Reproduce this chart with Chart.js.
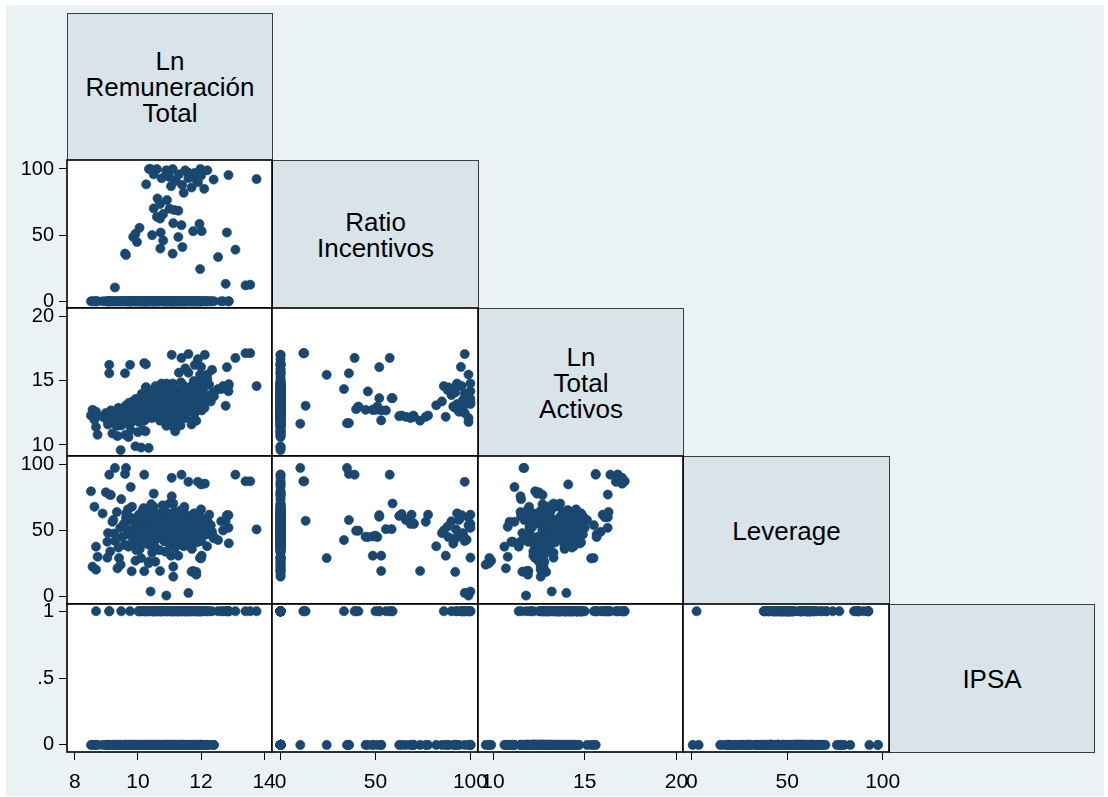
<!DOCTYPE html>
<html>
<head>
<meta charset="utf-8">
<title>Matriz de dispersión</title>
<script src="https://cdn.jsdelivr.net/npm/chart.js@4.4.1/dist/chart.umd.min.js"></script>
<style>
  html, body { margin: 0; padding: 0; background: #ffffff; }
  #page { position: relative; width: 1108px; height: 797px; overflow: hidden; background: #ffffff; }
  #bg { position: absolute; left: 6px; top: 5px; width: 1098px; height: 791px; background: #eaf2f3; }
  .diag {
    position: absolute; box-sizing: border-box; border: 1px solid #3c3c3c; background: #d9e4ea;
    display: flex; align-items: center; justify-content: center; text-align: center;
    font-family: 'Liberation Sans', Arial, sans-serif; font-size: 26px; line-height: 26px;
    color: #000; white-space: pre-line;
  }
  canvas { position: absolute; }
</style>
</head>
<body>
<div id="page"><div id="bg"></div></div>
<script>
// etiquetas de la diagonal
const varLabels = ['Ln\nRemuneración\nTotal', 'Ratio\nIncentivos', 'Ln\nTotal\nActivos', 'Leverage', 'IPSA'];

// observaciones (mismo orden en todos los arreglos)
const lnRem = [
  10.40, 10.90, 11.60, 11.60, 11.85, 11.98, 12.87, 13.76, 10.26, 10.35,
  10.50, 10.60, 10.90, 11.00, 11.10, 11.20, 11.30, 11.40, 11.50, 11.60,
  11.70, 11.80, 11.90, 12.00, 12.10, 12.20, 12.40, 11.05, 10.75, 11.45,
  10.62, 10.92, 10.50, 10.70, 11.00, 11.15, 11.28, 10.60, 10.70, 10.80,
  9.59, 9.62, 9.92, 10.05, 9.97, 9.85, 10.45, 10.72, 10.80, 11.12,
  11.38, 11.28, 11.75, 11.95, 12.02, 12.82, 13.09, 12.54, 11.41, 11.10,
  10.71,
  11.97, 9.27, 12.78, 13.41, 13.56,
  8.51, 8.56, 8.62, 8.67, 8.67, 8.72, 8.88, 8.98, 9.03, 9.03,
  9.09, 9.14, 9.19, 9.24, 9.35, 9.40, 9.45, 9.47, 9.75, 9.77,
  9.92, 10.10, 10.34, 9.09, 10.20, 10.25, 11.07, 12.12, 12.35, 11.18,
  10.24, 10.50, 11.07, 11.12, 11.12, 11.70, 11.85, 9.80, 10.20, 10.35,
  10.55, 10.87, 12.88, 12.64, 12.00, 12.20, 11.50, 11.80, 11.30, 11.60,
  9.60, 9.70, 10.00, 10.90, 11.40, 11.35, 10.15, 12.00, 11.00, 11.45,
  10.50, 12.00, 12.41, 12.70, 12.87, 11.90,
  9.55, 9.63, 9.66, 9.72, 9.78, 9.81, 9.88, 9.93, 9.97, 10.02,
  10.06, 10.12, 10.14, 10.21, 10.27, 10.31, 10.36, 10.42, 10.47, 10.52,
  10.56, 10.61, 10.67, 10.69, 10.77, 10.82, 10.84, 10.91, 10.96, 11.03,
  11.06, 11.11, 11.17, 11.22, 11.24, 11.32, 11.36, 11.43, 11.47, 11.52,
  11.54, 11.62, 11.66, 11.71, 11.77, 11.79, 11.86, 11.92, 11.94, 12.01,
  12.06, 12.11, 12.17, 12.19, 12.26, 12.31, 10.38, 10.93, 11.28, 10.58,
  9.05, 9.12, 9.22, 9.28, 9.33, 9.38, 9.44, 9.50, 9.57, 9.62,
  9.68, 9.74, 9.83, 9.89, 9.95, 10.03, 10.08, 10.13, 10.18, 10.23,
  10.28, 10.33, 10.39, 10.44, 10.49, 10.53, 10.58, 10.63, 10.68, 10.73,
  10.78, 10.83, 10.88, 10.94, 10.98, 11.02, 11.08, 11.13, 11.18, 11.23,
  11.27, 11.33, 11.38, 11.42, 11.48, 11.53, 11.58, 11.63, 11.68, 11.73,
  11.78, 11.84, 11.88, 11.93, 11.99, 10.45, 10.85, 11.15, 10.25, 10.65
];
const ratioInc = [
  100, 99, 97, 97, 92, 100, 95.4, 92.4, 88.4, 100,
  96, 100, 98, 94, 100, 91, 96, 88, 99, 93,
  86, 97, 90, 95, 85, 99, 92, 87, 93, 82,
  77.7, 76.5, 70.2, 73.5, 70, 69, 68.5, 63.8, 62.5, 66,
  36, 35, 51, 55.5, 44.8, 48.6, 50, 52, 46, 59,
  57.5, 48.6, 53, 58.5, 53, 52, 39, 33.4, 41, 36,
  39.8,
  24.3, 10.4, 13.2, 12, 12.5,
  0, 0, 0, 0, 0, 0, 0, 0, 0, 0,
  0, 0, 0, 0, 0, 0, 0, 0, 0, 0,
  0, 0, 0, 0, 0, 0, 0, 0, 0, 0,
  0, 0, 0, 0, 0, 0, 0, 0, 0, 0,
  0, 0, 0, 0, 0, 0, 0, 0, 0, 0,
  0, 0, 0, 0, 0, 0, 0, 0, 0, 0,
  0, 0, 0, 0, 0, 0,
  0, 0, 0, 0, 0, 0, 0, 0, 0, 0,
  0, 0, 0, 0, 0, 0, 0, 0, 0, 0,
  0, 0, 0, 0, 0, 0, 0, 0, 0, 0,
  0, 0, 0, 0, 0, 0, 0, 0, 0, 0,
  0, 0, 0, 0, 0, 0, 0, 0, 0, 0,
  0, 0, 0, 0, 0, 0, 0, 0, 0, 0,
  0, 0, 0, 0, 0, 0, 0, 0, 0, 0,
  0, 0, 0, 0, 0, 0, 0, 0, 0, 0,
  0, 0, 0, 0, 0, 0, 0, 0, 0, 0,
  0, 0, 0, 0, 0, 0, 0, 0, 0, 0,
  0, 0, 0, 0, 0, 0, 0, 0, 0, 0,
  0, 0, 0, 0, 0, 0, 0, 0, 0, 0
];
const lnTA = [
  13.2, 11.8, 14.0, 17.1, 12.9, 13.3, 14.6, 14.6, 14.5, 13.6,
  12.9, 14.2, 13.8, 12.6, 14.8, 13.0, 13.5, 14.3, 12.1, 13.2,
  14.6, 12.5, 13.9, 16.1, 13.4, 15.5, 14.1, 12.2, 14.8, 13.1,
  12.3, 12.2, 12.2, 11.9, 12.3, 12.2, 12.1, 12.3, 12.25, 12.2,
  15.6, 11.7, 13.0, 12.7, 12.75, 12.75, 12.75, 13.66, 14.18, 13.66,
  16.8, 12.75, 11.92, 13.66, 12.7, 16.08, 16.8, 14.37, 13.0, 11.71,
  12.8,
  15.48, 11.66, 13.06, 17.17, 17.17,
  12.3, 12.75, 11.97, 11.4, 12.6, 10.8, 12.2, 12.5, 11.9, 12.4,
  16.26, 12.7, 10.9, 12.0, 10.7, 12.3, 9.6, 11.53, 16.26, 11.17,
  9.9, 9.8, 9.77, 15.6, 16.4, 16.3, 17.04, 17.04, 15.87, 11.07,
  11.07, 12.4, 11.5, 12.6, 12.6, 11.6, 11.9, 11.8, 11.9, 12.5,
  12.8, 13.0, 14.75, 14.37, 15.35, 15.13, 15.98, 16.25, 15.65, 15.65,
  10.8, 10.62, 11.0, 11.5, 12.1, 11.53, 11.17, 14.53, 13.3, 14.07,
  13.6, 14.1, 13.8, 14.6, 14.2, 16.7,
  12.1, 12.8, 11.8, 13.3, 12.4, 13.0, 12.0, 13.6, 12.6, 13.2,
  12.3, 14.0, 12.9, 13.5, 12.2, 14.3, 13.1, 12.7, 13.8, 12.4,
  14.6, 13.0, 13.4, 12.6, 14.1, 13.2, 12.9, 14.8, 13.6, 12.5,
  14.4, 13.3, 12.8, 14.0, 13.5, 12.3, 14.9, 13.7, 13.0, 14.5,
  13.4, 12.6, 14.2, 13.9, 15.0, 13.1, 14.6, 13.6, 14.8, 13.3,
  14.4, 12.9, 14.9, 13.9, 14.7, 13.4, 13.9, 13.8, 13.9, 14.2,
  11.6, 12.2, 11.9, 12.6, 11.5, 12.9, 12.1, 11.7, 12.5, 13.1,
  11.9, 12.7, 13.4, 12.2, 12.9, 11.8, 13.7, 12.5, 13.2, 12.0,
  13.9, 12.8, 13.5, 12.1, 14.2, 13.0, 12.4, 13.7, 14.4, 12.9,
  13.5, 14.0, 12.7, 13.3, 14.6, 12.2, 13.8, 13.1, 14.3, 12.6,
  13.6, 14.1, 12.9, 14.7, 13.4, 12.5, 14.0, 13.2, 14.5, 12.8,
  14.2, 13.5, 14.8, 13.0, 14.3, 13.3, 12.6, 13.9, 14.5, 12.7
];
const leverage = [
  3.6, 0.5, 2.5, 87, 18.5, 29.3, 61.6, 50.8, 45, 52,
  48, 55, 43, 58, 62, 40, 47, 53, 60, 45,
  50, 42, 57, 60, 48, 54, 44, 30.8, 63, 38,
  62, 56.6, 55, 19.2, 55.5, 62, 55, 62.5, 61, 58,
  93, 97.5, 45, 51, 45.2, 45.5, 46, 60.4, 45, 70.5,
  92.4, 30.8, 19.2, 51, 30.8, 61.6, 92.4, 42.7, 49.8, 57.9,
  49.8,
  29, 97.5, 57.3, 87.4, 87.4,
  79.8, 22.5, 68, 37.7, 20.2, 30, 62.9, 79, 41.4, 29.3,
  77.3, 77, 56.6, 47.7, 21.2, 29, 24, 73.8, 60, 83,
  27, 29, 25, 92.4, 92.4, 64, 90, 85.6, 49, 41.4,
  41.4, 78, 76, 22.5, 14.9, 18.7, 16.4, 19, 19, 26.3,
  26.3, 33.9, 40.2, 57, 28.8, 57.9, 62, 52, 47, 45,
  52.8, 37.7, 41.4, 41.4, 41.4, 61, 56.6, 66, 70.5, 65.5,
  68, 85, 45, 50, 52, 87,
  55, 63, 47, 58, 40, 68, 52, 44, 60, 50,
  36, 57, 65, 46, 54, 61, 39, 70, 52, 45,
  56, 62, 48, 35, 58, 66, 42, 53, 47, 60,
  38, 55, 64, 50, 43, 57, 61, 49, 68, 40,
  53, 46, 58, 36, 52, 63, 45, 55, 60, 42,
  50, 57, 47, 38, 62, 54, 51, 49, 59, 44,
  48, 34, 58, 42, 64, 37, 52, 45, 39, 60,
  66, 48, 41, 57, 35, 62, 50, 44, 67, 53,
  40, 59, 47, 63, 51, 38, 56, 44, 61, 49,
  69, 42, 54, 46, 58, 40, 63, 51, 37, 57,
  47, 65, 43, 55, 49, 60, 39, 52, 44, 62,
  48, 56, 41, 59, 53, 33, 65, 45, 57, 50
];
const ipsa = [
  0, 0, 1, 1, 0, 0, 1, 1, 0, 1,
  1, 0, 1, 0, 1, 0, 1, 0, 1, 0,
  1, 0, 1, 1, 0, 1, 0, 0, 1, 0,
  0, 0, 0, 0, 0, 0, 0, 0, 0, 0,
  0, 0, 0, 1, 0, 0, 1, 1, 0, 1,
  1, 0, 0, 1, 0, 1, 1, 1, 1, 0,
  1,
  0, 0, 1, 1, 1,
  0, 0, 0, 1, 0, 0, 0, 0, 0, 0,
  1, 0, 0, 0, 0, 0, 0, 1, 1, 0,
  0, 0, 0, 1, 1, 1, 1, 1, 1, 0,
  0, 0, 0, 0, 0, 0, 0, 0, 0, 0,
  0, 0, 1, 1, 0, 0, 1, 1, 1, 1,
  0, 0, 0, 0, 0, 0, 0, 1, 1, 0,
  1, 1, 0, 1, 1, 1,
  0, 0, 0, 0, 0, 0, 0, 0, 0, 1,
  0, 1, 0, 1, 0, 1, 0, 0, 1, 0,
  1, 0, 1, 0, 1, 0, 0, 1, 0, 0,
  1, 0, 1, 0, 1, 0, 1, 0, 1, 0,
  1, 0, 1, 0, 1, 0, 1, 0, 1, 0,
  1, 0, 1, 0, 1, 0, 0, 0, 1, 1,
  0, 0, 0, 0, 0, 0, 0, 0, 0, 0,
  0, 0, 0, 0, 0, 1, 0, 1, 0, 1,
  1, 0, 1, 0, 1, 1, 0, 1, 0, 1,
  0, 1, 0, 1, 0, 1, 0, 1, 0, 1,
  1, 0, 1, 0, 1, 0, 1, 0, 1, 0,
  1, 0, 1, 0, 1, 0, 1, 1, 0, 1
];

// marcas de los ejes
const tickVals = [[8, 10, 12, 14], [0, 50, 100], [10, 15, 20], [0, 50, 100], [0, 0.5, 1]];
const tickText = [['8', '10', '12', '14'], ['0', '50', '100'], ['10', '15', '20'], ['0', '50', '100'], ['0', '.5', '1']];

const vars = [lnRem, ratioInc, lnTA, leverage, ipsa];

// rango de cada variable como eje x / eje y
const xRange = [[7.75, 14.25], [-4.5, 104], [9.18, 20.36], [-4.6, 103.3], [-0.053, 1.054]];
const yRange = [[7.75, 14.25], [-5.1, 106.8], [9.14, 20.7], [-5.9, 106.6], [-0.053, 1.054]];

const colEdge = [67, 272, 478, 683, 889, 1094];
const rowEdge = [13, 160, 308, 456, 604, 752];
const PAGE_H = 797;
const PAD = 26;
const FONT = "'Liberation Sans', Arial, sans-serif";
const MARKER = '#1a476f';

const page = document.getElementById('page');

// cajas de la diagonal
varLabels.forEach((txt, i) => {
  const d = document.createElement('div');
  d.className = 'diag';
  d.style.left = colEdge[i] + 'px';
  d.style.top = rowEdge[i] + 'px';
  d.style.width = (colEdge[i + 1] - colEdge[i] + 1) + 'px';
  d.style.height = (rowEdge[i + 1] - rowEdge[i] + 1) + 'px';
  d.textContent = txt;
  page.appendChild(d);
});

// fondo blanco y marco negro de cada celda
const cellFrame = {
  id: 'cellFrame',
  beforeDraw(chart) {
    const a = chart.chartArea, ctx = chart.ctx;
    ctx.save();
    ctx.fillStyle = '#ffffff';
    ctx.fillRect(a.left, a.top, a.right - a.left, a.bottom - a.top);
    ctx.restore();
  },
  afterDraw(chart) {
    const a = chart.chartArea, ctx = chart.ctx;
    ctx.save();
    ctx.strokeStyle = '#000000';
    ctx.lineWidth = 1.6;
    ctx.strokeRect(a.left, a.top, a.right - a.left, a.bottom - a.top);
    ctx.restore();
  }
};

function makeCell(r, c) {
  const cellL = colEdge[c], cellR = colEdge[c + 1];
  const cellT = rowEdge[r], cellB = rowEdge[r + 1];
  const leftPad = c === 0 ? cellL : PAD;
  const rightPad = PAD;
  const topPad = PAD;
  const bottomPad = r === 4 ? PAGE_H - cellB : PAD;
  const w = leftPad + (cellR - cellL) + rightPad;
  const h = topPad + (cellB - cellT) + bottomPad;

  const cv = document.createElement('canvas');
  cv.width = w; cv.height = h;
  cv.style.left = (cellL - leftPad) + 'px';
  cv.style.top = (cellT - topPad) + 'px';
  cv.style.width = w + 'px';
  cv.style.height = h + 'px';
  page.appendChild(cv);

  const xs = vars[c], ys = vars[r];
  const pts = xs.map((v, i) => ({ x: v, y: ys[i] }));

  new Chart(cv.getContext('2d'), {
    type: 'scatter',
    data: {
      datasets: [{
        data: pts,
        pointRadius: 4.6,
        pointHoverRadius: 4.6,
        pointBackgroundColor: MARKER,
        pointBorderColor: MARKER,
        pointBorderWidth: 0.6
      }]
    },
    options: {
      responsive: false,
      animation: false,
      devicePixelRatio: 1,
      events: [],
      layout: {
        padding: { left: c === 0 ? 0 : leftPad, right: rightPad, top: topPad, bottom: r === 4 ? 0 : bottomPad }
      },
      plugins: { legend: { display: false }, tooltip: { enabled: false } },
      scales: {
        x: {
          type: 'linear',
          min: xRange[c][0], max: xRange[c][1],
          display: r === 4,
          afterFit: s => { if (r === 4) s.height = bottomPad; },
          afterBuildTicks: s => { s.ticks = tickVals[c].map(v => ({ value: v })); },
          ticks: {
            autoSkip: false, maxRotation: 0, minRotation: 0, padding: 10,
            color: '#000000', font: { family: FONT, size: 21 },
            callback: (v, i) => tickText[c][i]
          },
          grid: { drawOnChartArea: false, drawTicks: true, tickLength: 8, color: '#000000', lineWidth: 1 },
          border: { display: false }
        },
        y: {
          type: 'linear',
          min: yRange[r][0], max: yRange[r][1],
          display: c === 0,
          afterFit: s => { if (c === 0) s.width = cellL; },
          afterBuildTicks: s => { s.ticks = tickVals[r].map(v => ({ value: v })); },
          ticks: {
            autoSkip: false, padding: 5,
            color: '#000000', font: { family: FONT, size: 20 },
            callback: (v, i) => tickText[r][i]
          },
          grid: { drawOnChartArea: false, drawTicks: true, tickLength: 8, color: '#000000', lineWidth: 1 },
          border: { display: false }
        }
      }
    },
    plugins: [cellFrame]
  });
}

for (let r = 1; r < 5; r++) {
  for (let c = 0; c < r; c++) {
    makeCell(r, c);
  }
}
</script>
</body>
</html>
